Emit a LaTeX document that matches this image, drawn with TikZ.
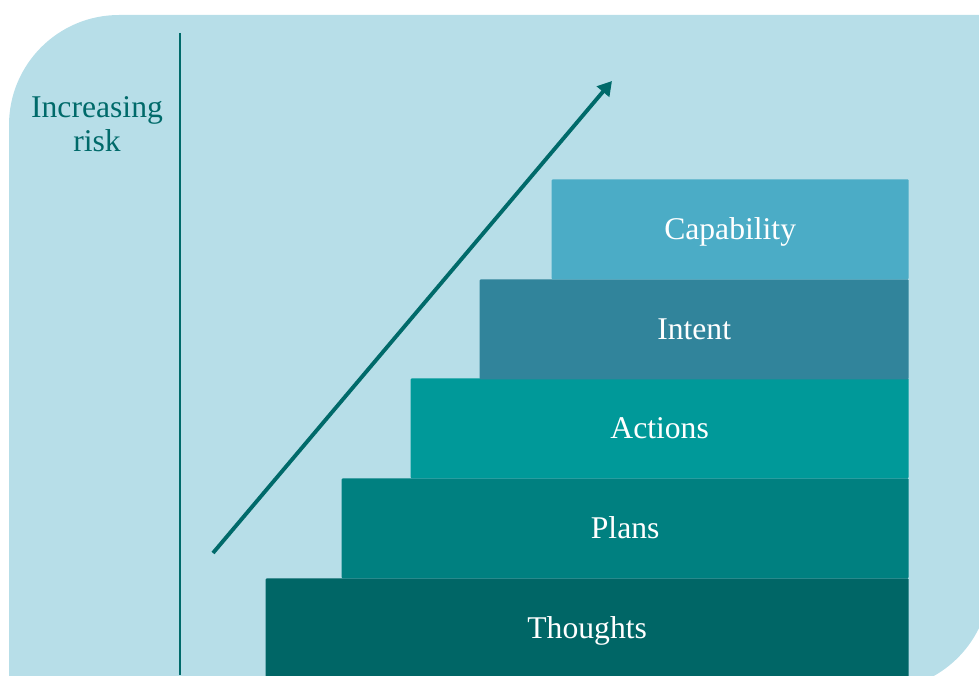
\documentclass[tikz,border=0pt]{standalone}
\usepackage{tikz}
\usetikzlibrary{positioning,arrows.meta}
\usepackage{fontspec}
\setmainfont{Liberation Serif}

\definecolor{skyback}{HTML}{B7DEE8}
\definecolor{capcol}{HTML}{4BACC6}
\definecolor{intcol}{HTML}{31849B}
\definecolor{actcol}{HTML}{009999}
\definecolor{plancol}{HTML}{008080}
\definecolor{thoughtcol}{HTML}{006666}
\definecolor{riskcol}{HTML}{006A6A}

\tikzset{
  stair/.style={rectangle, rounded corners=0.6pt, inner sep=0pt, minimum height=10*0.2cm,
    text height=11.4pt, text depth=0pt,
    anchor=north east, text=white, font=\fontsize{18}{20}\selectfont},
}

\begin{document}
\begin{tikzpicture}[scale=0.2]
\path [use as bounding box, clip] (0,0) rectangle (97.9,-67.5);
% background panel
\fill [skyback] (0.9,-69) -- (0.9,-12.5) arc (180:90:11) -- (99,-1.5) -- (99,-58) arc (0:-90:11) -- cycle;
% risk axis
\draw [riskcol, line width=1.2pt] (18.0,-3.3) -- (18.0,-67.5);
\node (risk) [align=center, text=riskcol, font=\fontsize{18}{19.3}\selectfont] at (9.7,-12.4) {Increasing\\risk};
% steps
\node (thoughts) [stair, fill=thoughtcol, minimum width=64.3*0.2cm] at (90.9,-57.8) {Thoughts};
\node (plans) [stair, fill=plancol, minimum width=56.7*0.2cm] at (90.9,-47.8) {Plans};
\node (actions) [stair, fill=actcol, minimum width=49.8*0.2cm] at (90.9,-37.8) {Actions};
\node (intent) [stair, fill=intcol, minimum width=42.9*0.2cm] at (90.9,-27.9) {Intent};
\node (capability) [stair, fill=capcol, minimum width=35.7*0.2cm] at (90.9,-17.9) {Capability};
% arrow
\coordinate (riskstart) at (21.3,-55.3);
\coordinate (riskend) at (61.2,-8.1);
\draw [riskcol, line width=2.2pt, -{Triangle[length=8pt,width=9pt]}] (riskstart) -- (riskend);
\end{tikzpicture}
\end{document}
